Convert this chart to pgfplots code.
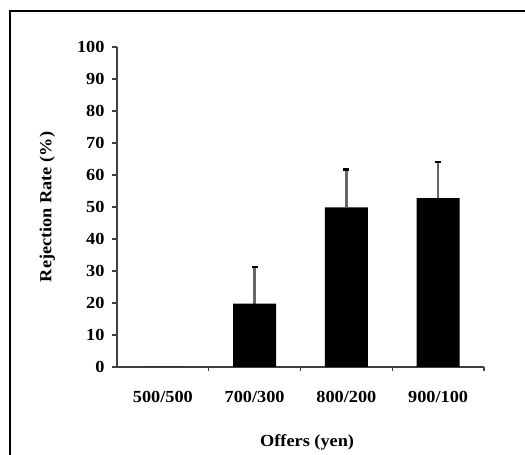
\documentclass[border=0pt]{standalone}
\usepackage{fontspec}
\setmainfont{Liberation Serif}[FakeStretch=1.08]
\usepackage{pgfplots}
\pgfplotsset{compat=1.18}

\pgfplotstableread{
x  rate  err
0  0     0
1  19.8  11.4
2  49.9  11.8
3  52.8  11.2
}\rejection

\begin{document}
\begin{tikzpicture}[x=1bp,y=1bp]
\begin{axis}[
    scale only axis,
    width=367bp,
    height=320bp,
    xmin=-0.5, xmax=3.5,
    ymin=0, ymax=100,
    axis x line*=bottom,
    axis y line*=left,
    axis line style={-, line width=1.4bp, black!75},
    ytick={0,10,...,100},
    xtick={0,1,2,3},
    xticklabels={500/500,700/300,800/200,900/100},
    minor xtick={0.5,1.5,2.5,3.5},
    major x tick style={draw=none},
    tick align=outside,
    major tick length=5bp,
    minor tick length=4bp,
    tick style={line width=1.4bp, black!75},
    /pgf/number format/assume math mode=true,
    tick label style={font=\bfseries\fontsize{17}{19}\selectfont},
    xticklabel style={yshift=-16bp},
    yticklabel style={xshift=-4bp},
    xlabel={\bfseries Offers (yen)},
    ylabel={\bfseries Rejection Rate (\%)},
    label style={font=\bfseries\fontsize{17}{19}\selectfont},
    xlabel style={at={(axis description cs:0.518,-0.234)}, anchor=center},
    ylabel style={at={(axis description cs:-0.19,0.5)}, anchor=center},
    clip=false,
]
% error bars first, so the bars cover their lower half
\addplot[
    draw=none, mark=none, forget plot,
    skip coords between index={0}{1},
    error bars/.cd, y dir=plus, y explicit,
    error bar style={line width=2.4bp, black!60},
    error mark options={line width=2.4bp, black, mark size=3bp, rotate=90},
] table[x=x, y=rate, y error=err] {\rejection};
\addplot[ybar, bar width=43bp, fill=black, draw=none]
    table[x=x, y=rate] {\rejection};
\end{axis}
\useasboundingbox (-117,-88) rectangle (408,367);
\draw[line width=2bp] (-106.5,-90) -- (-106.5,355.5) -- (410,355.5);
\end{tikzpicture}
\end{document}
